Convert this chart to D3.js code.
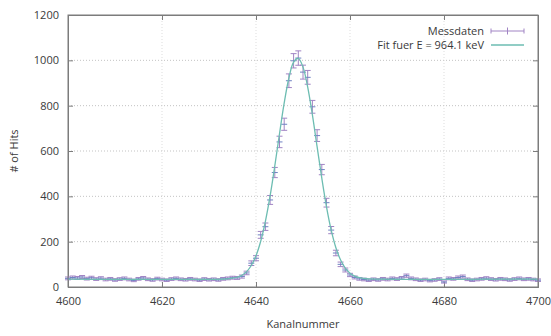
<!DOCTYPE html>
<html>
<head>
<meta charset="utf-8">
<script src="https://cdn.jsdelivr.net/npm/d3@7"></script>
<style>
  html, body { margin: 0; padding: 0; background: #ffffff; }
  svg { display: block; font-family: "Open Sans", "DejaVu Sans", sans-serif; }
</style>
</head>
<body>
<svg id="chart" width="551" height="336"></svg>
<script>
// Channel range of the spectrum and the measured counts per channel
const channelStart = 4600;
const counts = [
  38, 42, 40, 44, 37, 41, 35, 39, 33, 36,
  31, 35, 38, 33, 29, 36, 40, 34, 31, 37,
  33, 30, 35, 38, 34, 32, 36, 33, 30, 35,
  32, 34, 31, 36, 38, 41, 40, 46, 62, 105,
  127, 230, 266, 384, 505, 640, 718, 910, 998, 1010,
  948, 925, 795, 668, 518, 372, 251, 150, 100, 75,
  53, 42, 36, 33, 30, 34, 31, 36, 33, 38,
  35, 40, 50, 38, 34, 30, 33, 28, 31, 35,
  22, 38, 36, 42, 46, 34, 30, 33, 36, 39,
  35, 32, 36, 34, 31, 35, 38, 34, 36, 33,
  30
];

// Fitted peak curve, sampled per channel (4634 .. 4664); flat background elsewhere
const fitStart = 4634;
const fitValues = [
  36, 39, 43, 52, 68, 95, 138, 202, 290, 402,
  534, 676, 812, 922, 992, 1009, 970, 882, 759, 619,
  480, 354, 251, 173, 119, 83, 61, 48, 41, 38,
  36
];
const fitBackground = 35;

const xTicks = [4600, 4620, 4640, 4660, 4680, 4700];
const yTicks = [0, 200, 400, 600, 800, 1000, 1200];

const legendLabels = ["Messdaten", "Fit fuer E = 964.1 keV"];

const dataColor = "#a184c4";
const pointColor = "#6f82c2";
const fitColor = "#6dbdb2";
const frameColor = "#7c7c7c";
const textColor = "#3a3a3a";

const svg = d3.select("#chart");
const plot = { left: 68, right: 538, top: 15, bottom: 287 };

const x = d3.scaleLinear().domain([4600, 4700]).range([plot.left, plot.right]);
const y = d3.scaleLinear().domain([0, 1200]).range([plot.bottom, plot.top]);

const measured = counts.map((c, i) => ({ ch: channelStart + i, n: c, err: Math.sqrt(c) }));

// fit curve points: background before, sampled peak, background after
const fitPoints = [{ ch: 4600, v: fitBackground }]
  .concat(fitValues.map((v, i) => ({ ch: fitStart + i, v })))
  .concat([{ ch: 4700, v: fitBackground }]);

// grid
const grid = svg.append("g").attr("stroke", "#b4b4b4").attr("stroke-width", 0.8)
  .attr("stroke-dasharray", "1,2");
grid.selectAll("line.h").data(yTicks.filter(t => t > 0 && t < 1200)).join("line")
  .attr("x1", plot.left).attr("x2", plot.right)
  .attr("y1", d => y(d)).attr("y2", d => y(d));
grid.selectAll("line.v").data(xTicks.filter(t => t > 4600 && t < 4700)).join("line")
  .attr("y1", plot.top).attr("y2", plot.bottom)
  .attr("x1", d => x(d)).attr("x2", d => x(d))
  .attr("stroke", "#d4d4d4");

// axes with inward ticks, mirrored on top and right
const bottomAxis = d3.axisBottom(x).tickValues(xTicks).tickSize(-5).tickPadding(10).tickFormat(d3.format("d"));
const topAxis = d3.axisTop(x).tickValues(xTicks).tickSize(-5).tickFormat("");
const leftAxis = d3.axisLeft(y).tickValues(yTicks).tickSize(-5).tickPadding(9).tickFormat(d3.format("d"));
const rightAxis = d3.axisRight(y).tickValues(yTicks).tickSize(-5).tickFormat("");

function styleAxis(g) {
  g.select(".domain").attr("stroke", frameColor);
  g.selectAll(".tick line").attr("stroke", frameColor);
  g.selectAll(".tick text").attr("fill", textColor).attr("font-size", 11)
    .attr("font-family", "'Open Sans', 'DejaVu Sans', sans-serif");
}

svg.append("g").attr("transform", `translate(0,${plot.bottom})`).call(bottomAxis).call(styleAxis);
svg.append("g").attr("transform", `translate(0,${plot.top})`).call(topAxis).call(styleAxis);
svg.append("g").attr("transform", `translate(${plot.left},0)`).call(leftAxis).call(styleAxis);
svg.append("g").attr("transform", `translate(${plot.right},0)`).call(rightAxis).call(styleAxis);

// axis titles
svg.append("text")
  .attr("x", (plot.left + plot.right) / 2).attr("y", 328)
  .attr("text-anchor", "middle").attr("font-size", 11).attr("fill", textColor)
  .text("Kanalnummer");
svg.append("text")
  .attr("transform", `translate(18,${(plot.top + plot.bottom) / 2}) rotate(-90)`)
  .attr("text-anchor", "middle").attr("font-size", 11).attr("fill", textColor)
  .text("# of Hits");

// measured data with sqrt(N) error bars
const capW = 3;
const marks = svg.append("g").attr("stroke-width", 1).attr("fill", "none");
const pts = marks.selectAll("g").data(measured).join("g");
pts.append("line").attr("stroke", dataColor)
  .attr("x1", d => x(d.ch)).attr("x2", d => x(d.ch))
  .attr("y1", d => y(d.n - d.err)).attr("y2", d => y(d.n + d.err));
pts.append("line").attr("stroke", dataColor)
  .attr("x1", d => x(d.ch) - capW).attr("x2", d => x(d.ch) + capW)
  .attr("y1", d => y(d.n + d.err)).attr("y2", d => y(d.n + d.err));
pts.append("line").attr("stroke", dataColor)
  .attr("x1", d => x(d.ch) - capW).attr("x2", d => x(d.ch) + capW)
  .attr("y1", d => y(d.n - d.err)).attr("y2", d => y(d.n - d.err));
pts.append("line").attr("stroke", pointColor)
  .attr("x1", d => x(d.ch) - capW).attr("x2", d => x(d.ch) + capW)
  .attr("y1", d => y(d.n)).attr("y2", d => y(d.n));

// fit curve
svg.append("path")
  .datum(fitPoints)
  .attr("fill", "none").attr("stroke", fitColor).attr("stroke-width", 1.3)
  .attr("d", d3.line().x(d => x(d.ch)).y(d => y(d.v)).curve(d3.curveCatmullRom));

// frame
svg.append("rect")
  .attr("x", plot.left).attr("y", plot.top)
  .attr("width", plot.right - plot.left).attr("height", plot.bottom - plot.top)
  .attr("fill", "none").attr("stroke", frameColor);

// legend
const lgX1 = 491, lgX2 = 524, lgTextX = 484;
const lg = svg.append("g");
lg.selectAll("text").data(legendLabels).join("text")
  .attr("x", lgTextX).attr("y", (d, i) => 35 + i * 14)
  .attr("text-anchor", "end").attr("font-size", 11).attr("fill", textColor)
  .text(d => d);
const sym = lg.append("g").attr("stroke", dataColor).attr("stroke-width", 1);
sym.append("line").attr("x1", lgX1).attr("x2", lgX2).attr("y1", 31).attr("y2", 31);
sym.append("line").attr("x1", lgX1).attr("x2", lgX1).attr("y1", 28.5).attr("y2", 33.5);
sym.append("line").attr("x1", lgX2).attr("x2", lgX2).attr("y1", 28.5).attr("y2", 33.5);
sym.append("line").attr("x1", (lgX1 + lgX2) / 2).attr("x2", (lgX1 + lgX2) / 2).attr("y1", 27.5).attr("y2", 34.5);
lg.append("line").attr("x1", lgX1).attr("x2", lgX2).attr("y1", 45).attr("y2", 45)
  .attr("stroke", fitColor).attr("stroke-width", 1.3);
</script>
</body>
</html>
